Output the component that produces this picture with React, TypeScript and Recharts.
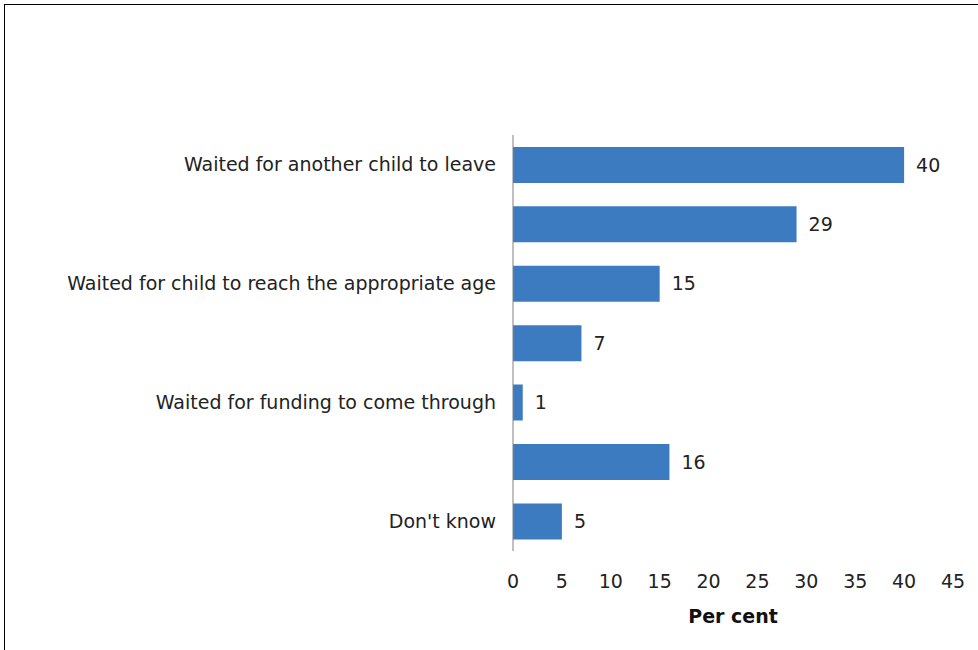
import React from 'react';
import { BarChart, Bar, XAxis, YAxis, LabelList, Label } from 'recharts';

// Alternate category labels are not shown in the source chart
const categories = [
  'Waited for another child to leave',
  '',
  'Waited for child to reach the appropriate age',
  '',
  'Waited for funding to come through',
  '',
  "Don't know",
];
const values = [40, 29, 15, 7, 1, 16, 5];
const xTicks = [0, 5, 10, 15, 20, 25, 30, 35, 40, 45];

const data = categories.map((label, i) => ({ id: `c${i}`, label, value: values[i] }));

const FONT = '"DejaVu Sans", sans-serif';

const App: React.FC = () => {
  return (
    <div
      style={{
        position: 'absolute',
        left: 4,
        top: 4,
        width: 990,
        height: 660,
        border: '1px solid #000',
        background: '#fff',
        fontFamily: FONT,
      }}
    >
      <BarChart
        width={990}
        height={660}
        data={data}
        layout="vertical"
        barCategoryGap="20%"
        margin={{ top: 130, right: 42, bottom: 42, left: 0 }}
      >
        <XAxis
          type="number"
          domain={[0, 45]}
          ticks={xTicks}
          axisLine={false}
          tickLine={false}
          tickSize={0}
          tickMargin={24}
          height={72}
          tick={{ fill: '#222', fontSize: 19, fontFamily: FONT }}
        >
          <Label
            value="Per cent"
            position="insideBottom"
            offset={0}
            style={{ fill: '#111', fontSize: 19, fontWeight: 'bold', fontFamily: FONT }}
          />
        </XAxis>
        <YAxis
          type="category"
          dataKey="id"
          width={508}
          interval={0}
          tickLine={false}
          tickSize={0}
          tickMargin={17}
          axisLine={{ stroke: '#808080' }}
          tickFormatter={(v: string) => data.find((d) => d.id === v)?.label ?? ''}
          tick={{ fill: '#222', fontSize: 19, fontFamily: FONT }}
        />
        <Bar dataKey="value" fill="#3C7BC0" isAnimationActive={false}>
          <LabelList
            dataKey="value"
            position="right"
            offset={12}
            style={{ fill: '#222', fontSize: 19, fontFamily: FONT }}
          />
        </Bar>
      </BarChart>
    </div>
  );
};

export default App;
